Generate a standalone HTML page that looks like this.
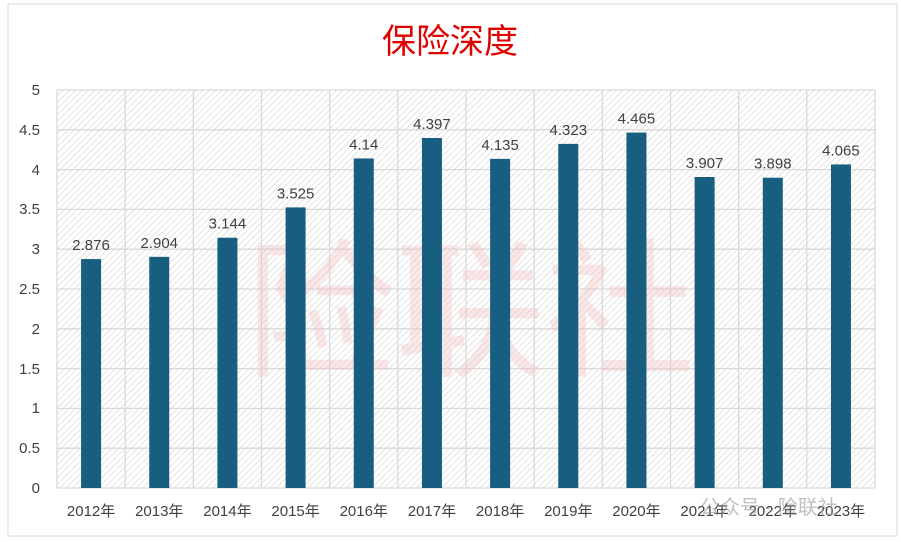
<!DOCTYPE html>
<html><head><meta charset="utf-8"><style>
body{margin:0;background:#fff;}
svg{display:block;font-family:"Liberation Sans","Noto Sans CJK SC",sans-serif;}
</style></head><body>
<svg width="901" height="542" viewBox="0 0 901 542">
<defs>
<pattern id="h" width="4.5" height="4.5" patternUnits="userSpaceOnUse" patternTransform="rotate(45)">
<rect width="4.5" height="4.5" fill="#fff"/>
<line x1="0" y1="0" x2="0" y2="4.5" stroke="#d2d2d2" stroke-width="1.2"/>
</pattern>
</defs>
<rect x="0" y="0" width="901" height="542" fill="#fff"/>
<rect x="8" y="4" width="889" height="532" fill="#fff" stroke="#d9d9d9"/>
<text x="450" y="53" text-anchor="middle" font-size="34" fill="#e00000">保险深度</text>
<rect x="57" y="90" width="818" height="398" fill="url(#h)"/>
<g stroke="#d9d9d9" stroke-width="1.3">
<line x1="57" y1="90" x2="875" y2="90"/><line x1="57" y1="129.8" x2="875" y2="129.8"/>
<line x1="57" y1="169.6" x2="875" y2="169.6"/><line x1="57" y1="209.4" x2="875" y2="209.4"/>
<line x1="57" y1="249.2" x2="875" y2="249.2"/><line x1="57" y1="289" x2="875" y2="289"/>
<line x1="57" y1="328.8" x2="875" y2="328.8"/><line x1="57" y1="368.6" x2="875" y2="368.6"/>
<line x1="57" y1="408.4" x2="875" y2="408.4"/><line x1="57" y1="448.2" x2="875" y2="448.2"/>
<line x1="57" y1="488" x2="875" y2="488"/>
<line x1="57" y1="90" x2="57" y2="488"/><line x1="125.2" y1="90" x2="125.2" y2="488"/>
<line x1="193.3" y1="90" x2="193.3" y2="488"/><line x1="261.5" y1="90" x2="261.5" y2="488"/>
<line x1="329.7" y1="90" x2="329.7" y2="488"/><line x1="397.8" y1="90" x2="397.8" y2="488"/>
<line x1="466" y1="90" x2="466" y2="488"/><line x1="534.2" y1="90" x2="534.2" y2="488"/>
<line x1="602.3" y1="90" x2="602.3" y2="488"/><line x1="670.5" y1="90" x2="670.5" y2="488"/>
<line x1="738.7" y1="90" x2="738.7" y2="488"/><line x1="806.8" y1="90" x2="806.8" y2="488"/>
<line x1="875" y1="90" x2="875" y2="488"/>
</g>
<text x="470" y="365" text-anchor="middle" font-size="150" fill="#f4c4c4" opacity="0.4">险联社</text>
<g font-size="15" fill="#404040" text-anchor="end">
<text x="40" y="95">5</text><text x="40" y="135">4.5</text><text x="40" y="175">4</text>
<text x="40" y="214">3.5</text><text x="40" y="254">3</text><text x="40" y="294">2.5</text>
<text x="40" y="334">2</text><text x="40" y="374">1.5</text><text x="40" y="413">1</text>
<text x="40" y="453">0.5</text><text x="40" y="493">0</text>
</g>
<g fill="#175e80" id="bars"></g>
<g id="lbl" font-size="15" fill="#404040" text-anchor="middle"></g>
<g id="xl" font-size="15" fill="#404040" text-anchor="middle"></g>
<script>
var v=[2.876,2.904,3.144,3.525,4.14,4.397,4.135,4.323,4.465,3.907,3.898,4.065];
var b=document.getElementById('bars'),l=document.getElementById('lbl'),x=document.getElementById('xl');
var ns='http://www.w3.org/2000/svg';
v.forEach(function(d,i){
 var c=57+68.17*(i+0.5),h=d*79.6;
 var r=document.createElementNS(ns,'rect');r.setAttribute('x',c-10);r.setAttribute('y',488-h);r.setAttribute('width',20);r.setAttribute('height',h);b.appendChild(r);
 var t=document.createElementNS(ns,'text');t.setAttribute('x',c);t.setAttribute('y',488-h-9);t.textContent=String(d);l.appendChild(t);
 var u=document.createElementNS(ns,'text');u.setAttribute('x',c);u.setAttribute('y',516);u.textContent=(2012+i)+'年';x.appendChild(u);
});
</script>
<text x="700" y="514" font-size="20" fill="#999" opacity="0.6">公众号 · 险联社</text>
</svg>
</body></html>
